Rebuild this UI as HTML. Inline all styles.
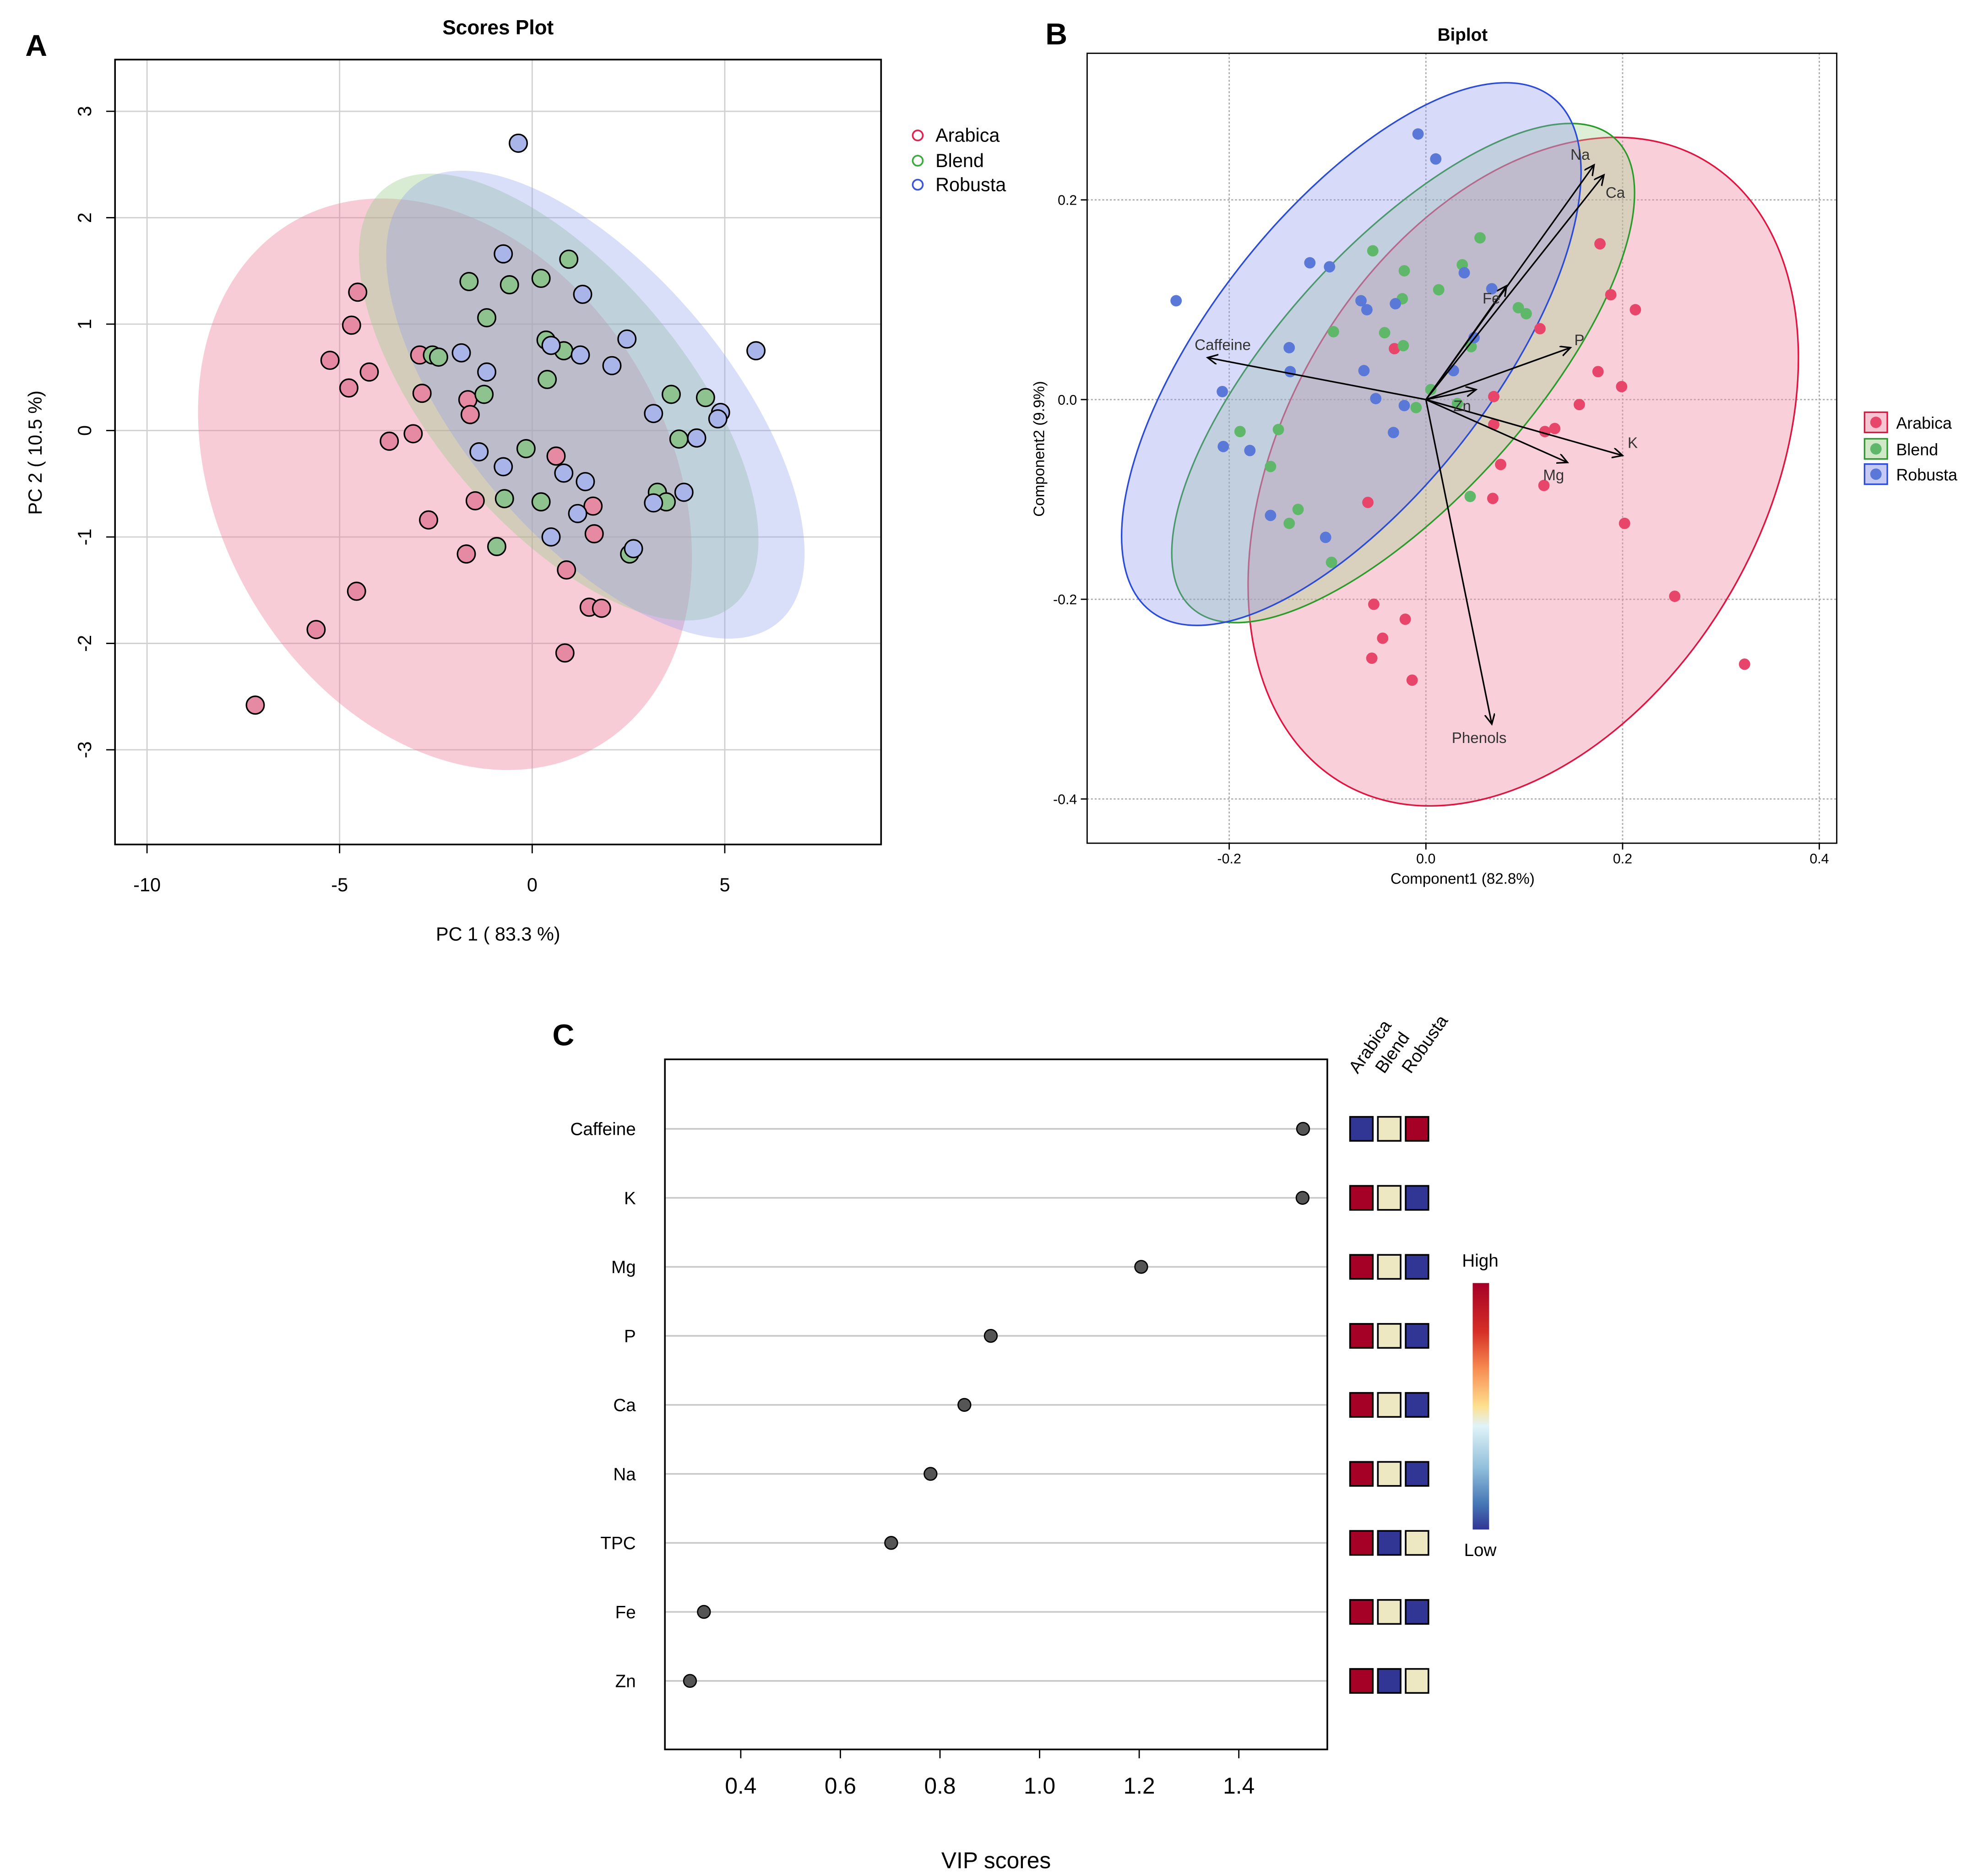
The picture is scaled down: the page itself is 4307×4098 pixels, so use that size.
<!DOCTYPE html>
<html><head><meta charset="utf-8"><style>html,body{margin:0;padding:0;background:#fff}svg{display:block}text{font-family:"Liberation Sans",sans-serif}</style></head>
<body>
<svg id="root" width="4307" height="4098" viewBox="0 0 1560 1484" xmlns="http://www.w3.org/2000/svg">
<rect width="1560" height="1484" fill="#fff"/>
<g id="A"></g>
<g id="B"></g>
<g id="C"></g>
</svg>
<script>
// ---- Panel A data ----
const aArabicaX=[-4.53,-4.69,-5.25,-4.23,-4.76,-2.92,-2.86,-1.67,-1.61,-3.71,-3.09,0.62,-2.69,-1.48,1.58,1.61,-1.71,0.89,-4.56,-5.61,1.48,1.80,0.85,-7.19];
const aArabicaY=[1.30,0.99,0.66,0.55,0.40,0.71,0.35,0.29,0.15,-0.10,-0.03,-0.24,-0.84,-0.66,-0.71,-0.97,-1.16,-1.31,-1.51,-1.87,-1.66,-1.67,-2.09,-2.58];
const aBlendX=[-1.64,-0.59,0.23,0.95,-1.18,0.36,0.82,0.39,-2.59,-2.43,-1.25,-0.16,-0.72,0.23,-0.92,2.53,3.61,4.50,3.81,3.25,3.48];
const aBlendY=[1.40,1.37,1.43,1.61,1.06,0.85,0.75,0.48,0.71,0.69,0.34,-0.17,-0.64,-0.67,-1.09,-1.16,0.34,0.31,-0.08,-0.58,-0.67];
const aRobustaX=[-0.36,-0.75,1.31,-1.84,-1.18,0.49,1.25,2.46,2.07,5.81,4.89,4.82,3.15,4.27,-1.38,-0.75,0.82,1.38,3.94,3.15,1.18,0.49,2.63];
const aRobustaY=[2.70,1.66,1.28,0.73,0.55,0.80,0.71,0.86,0.61,0.75,0.17,0.11,0.16,-0.07,-0.20,-0.34,-0.40,-0.48,-0.58,-0.68,-0.78,-1.00,-1.11];
const aXTicks=[-10,-5,0,5];
const aYTicks=[-3,-2,-1,0,1,2,3];
// ---- Panel B data ----
const bArabicaX=[0.177,0.188,0.213,0.116,0.175,0.199,0.156,0.069,0.131,0.121,0.069,0.076,0.120,0.068,-0.059,0.202,0.253,-0.032,-0.053,-0.021,-0.044,-0.055,-0.014,0.324];
const bArabicaY=[0.156,0.105,0.090,0.071,0.028,0.013,-0.005,0.003,-0.029,-0.032,-0.025,-0.065,-0.086,-0.099,-0.103,-0.124,-0.197,0.051,-0.205,-0.220,-0.239,-0.259,-0.281,-0.265];
const bBlendX=[0.055,-0.054,0.037,-0.022,0.013,-0.024,0.094,0.102,-0.094,-0.042,-0.023,0.046,0.005,-0.010,0.032,-0.189,-0.150,-0.158,-0.130,-0.139,-0.096,0.045];
const bBlendY=[0.162,0.149,0.135,0.129,0.110,0.101,0.092,0.086,0.068,0.067,0.054,0.053,0.010,-0.008,-0.004,-0.032,-0.030,-0.067,-0.110,-0.124,-0.163,-0.097];
const bRobustaX=[-0.008,0.010,-0.254,-0.118,-0.098,-0.066,-0.060,-0.031,0.039,0.067,0.049,-0.139,-0.138,-0.063,0.028,-0.207,-0.051,-0.022,-0.033,-0.206,-0.179,-0.102,-0.158];
const bRobustaY=[0.266,0.241,0.099,0.137,0.133,0.099,0.090,0.096,0.127,0.111,0.062,0.052,0.028,0.029,0.029,0.008,0.001,-0.006,-0.033,-0.047,-0.051,-0.138,-0.116];
const loadNames=["Na","Ca","Fe","P","K","Mg","Zn","Caffeine","Phenols"];
const loadX=[0.171,0.181,0.082,0.147,0.200,0.144,0.051,-0.222,0.067];
const loadY=[0.235,0.225,0.114,0.052,-0.056,-0.063,0.010,0.042,-0.325];
const bXTicks=[-0.2,0.0,0.2,0.4];
const bYTicks=[-0.4,-0.2,0.0,0.2];
// ---- Panel C data ----
const vipNames=["Caffeine","K","Mg","P","Ca","Na","TPC","Fe","Zn"];
const vipValues=[1.529,1.528,1.204,0.902,0.849,0.781,0.702,0.326,0.298];
const heatGroups=["Arabica","Blend","Robusta"];
const heatArabica=[-1,1,1,1,1,1,1,1,1];
const heatBlend=[0,0,0,0,0,0,-1,0,-1];
const heatRobusta=[1,-1,-1,-1,-1,-1,0,-1,0];
const cXTicks=[0.4,0.6,0.8,1.0,1.2,1.4];

const NS="http://www.w3.org/2000/svg";
function mk(parent,tag,attrs,txt){const e=document.createElementNS(NS,tag);for(const k in attrs)e.setAttribute(k,attrs[k]);if(txt!==undefined)e.textContent=txt;parent.appendChild(e);return e;}

// ===== Panel A =====
const A=document.getElementById('A');
const ax=v=>421+v*30.47, ay=v=>340.5-v*84.2;
let t=mk(A,'text',{x:20,y:44,'font-size':24,'font-weight':'bold'},'A');


aXTicks.forEach(v=>{let l=mk(A,'line',{x1:ax(v),x2:ax(v),y1:47,y2:668,stroke:'#d0d0d0','stroke-width':1});

});
aYTicks.forEach(v=>{let l=mk(A,'line',{x1:91,x2:697,y1:ay(v),y2:ay(v),stroke:'#d0d0d0','stroke-width':1});

});
[[352,383,240,178,60,'rgba(236,120,150,0.38)','arabica'],[442,314,215,100,50,'rgba(150,205,140,0.38)','blend'],[471,320,225,105,50,'rgba(140,155,235,0.32)','robusta']].forEach(e=>{
 let el=mk(A,'ellipse',{cx:0,cy:0,rx:e[2],ry:e[3],transform:`translate(${e[0]},${e[1]}) rotate(${e[4]})`,fill:e[5]});
 
 
});
function ptsA(xs,ys,fill,name){xs.forEach((x,i)=>{let c=mk(A,'circle',{cx:ax(x),cy:ay(ys[i]),r:7,fill:fill,stroke:'#000','stroke-width':1.2});

});}
ptsA(aArabicaX,aArabicaY,'#e58aa2','a-point-arabica');
ptsA(aBlendX,aBlendY,'#8ec28e','a-point-blend');
ptsA(aRobustaX,aRobustaY,'#a9b5e8','a-point-robusta');
let box=mk(A,'rect',{x:91,y:47,width:606,height:621,fill:'none',stroke:'#000','stroke-width':1.3});


aXTicks.forEach(v=>{mk(A,'line',{x1:ax(v),x2:ax(v),y1:668,y2:675,stroke:'#000'});
let tx=mk(A,'text',{x:ax(v),y:705,'font-size':15,'text-anchor':'middle'},String(v));

});
aYTicks.forEach(v=>{mk(A,'line',{x1:84,x2:91,y1:ay(v),y2:ay(v),stroke:'#000'});
let tx=mk(A,'text',{x:0,y:0,'font-size':15,'text-anchor':'middle',transform:`translate(72,${ay(v)}) rotate(-90)`},String(v));

});
t=mk(A,'text',{x:394,y:27,'font-size':16,'font-weight':'bold','text-anchor':'middle'},'Scores Plot');


t=mk(A,'text',{x:394,y:744,'font-size':15,'text-anchor':'middle'},'PC 1 ( 83.3 %)');


t=mk(A,'text',{x:0,y:0,'font-size':15,'text-anchor':'middle',transform:'translate(33,358) rotate(-90)'},'PC 2 ( 10.5 %)');


[['Arabica','#e0224e',108],['Blend','#3aaa3a',128],['Robusta','#3a55d8',147]].forEach(l=>{
 let g=mk(A,'g',{});
 
 
 mk(g,'circle',{cx:726,cy:l[2]-1,r:4,fill:'none',stroke:l[1],'stroke-width':1.3});
 mk(g,'text',{x:740,y:l[2]+4,'font-size':15},l[0]);
});

// ===== Panel B =====
const B=document.getElementById('B');
const bx=v=>1128+v*778, by=v=>316-v*790;
t=mk(B,'text',{x:827,y:35,'font-size':24,'font-weight':'bold'},'B');


bXTicks.forEach(v=>{let l=mk(B,'line',{x1:bx(v),x2:bx(v),y1:42,y2:667,stroke:'#aaa','stroke-dasharray':'1.5,1.5'});

});
bYTicks.forEach(v=>{let l=mk(B,'line',{x1:860,x2:1453,y1:by(v),y2:by(v),stroke:'#aaa','stroke-dasharray':'1.5,1.5'});

});
[[1205,373,285,190,-60,'rgba(240,140,165,0.42)','#e0123e','arabica'],[1110,295,250,100,-48,'rgba(160,210,140,0.35)','#2a9a2a','blend'],[1069,280,258,112,-52,'rgba(140,150,235,0.35)','#2a4ad8','robusta']].forEach(e=>{
 let el=mk(B,'ellipse',{cx:0,cy:0,rx:e[2],ry:e[3],transform:`translate(${e[0]},${e[1]}) rotate(${e[4]})`,fill:e[5],stroke:e[6],'stroke-width':1.2});
 
 
});
function ptsB(xs,ys,fill,name){xs.forEach((x,i)=>{let c=mk(B,'circle',{cx:bx(x),cy:by(ys[i]),r:4.5,fill:fill});

});}
ptsB(bArabicaX,bArabicaY,'#e8456a','b-point-arabica');
ptsB(bBlendX,bBlendY,'#5fb86a','b-point-blend');
ptsB(bRobustaX,bRobustaY,'#5a78d8','b-point-robusta');
mk(B,'defs',{}).innerHTML='<marker id="arr" markerWidth="10" markerHeight="10" refX="8" refY="4" orient="auto" markerUnits="userSpaceOnUse"><path d="M0,0 L8,4 L0,8" fill="none" stroke="#000" stroke-width="1.2"/></marker>';
const lblOff={Na:[-11,-8],Ca:[9,14],Fe:[-12,10],P:[7,-6],K:[8,-10],Mg:[-11,10],Zn:[-11,13],Caffeine:[12,-10],Phenols:[-10,11]};
loadNames.forEach((n,i)=>{
 let l=mk(B,'line',{x1:bx(0),y1:by(0),x2:bx(loadX[i]),y2:by(loadY[i]),stroke:'#000','stroke-width':1.2,'marker-end':'url(#arr)'});
 
 
 let o=lblOff[n];
 let tx=mk(B,'text',{x:bx(loadX[i])+o[0],y:by(loadY[i])+o[1]+4,'font-size':12,'text-anchor':'middle',fill:'#333'},n);
 
 
});
box=mk(B,'rect',{x:860,y:42,width:593,height:625,fill:'none',stroke:'#000','stroke-width':1});


bXTicks.forEach(v=>{mk(B,'line',{x1:bx(v),x2:bx(v),y1:667,y2:672,stroke:'#000'});
let tx=mk(B,'text',{x:bx(v),y:683,'font-size':11,'text-anchor':'middle'},v.toFixed(1));

});
bYTicks.forEach(v=>{mk(B,'line',{x1:855,x2:860,y1:by(v),y2:by(v),stroke:'#000'});
let tx=mk(B,'text',{x:852,y:by(v)+4,'font-size':11,'text-anchor':'end'},v.toFixed(1));

});
t=mk(B,'text',{x:1157,y:32,'font-size':14,'font-weight':'bold','text-anchor':'middle'},'Biplot');


t=mk(B,'text',{x:1157,y:699,'font-size':12,'text-anchor':'middle'},'Component1 (82.8%)');


t=mk(B,'text',{x:0,y:0,'font-size':12,'text-anchor':'middle',transform:'translate(826,355) rotate(-90)'},'Component2 (9.9%)');


[['Arabica','rgba(240,140,165,0.5)','#e0123e','#e8456a',334],['Blend','rgba(160,210,140,0.5)','#2a9a2a','#5fb86a',355],['Robusta','rgba(140,150,235,0.5)','#2a4ad8','#5a78d8',375]].forEach(l=>{
 let g=mk(B,'g',{});
 
 
 mk(g,'rect',{x:1475,y:l[4]-8,width:18,height:16,fill:l[1],stroke:l[2],'stroke-width':1.2});
 mk(g,'circle',{cx:1484,cy:l[4],r:4.5,fill:l[3]});
 mk(g,'text',{x:1500,y:l[4]+5,'font-size':13},l[0]);
});

// ===== Panel C =====
const C=document.getElementById('C');
const cx=v=>428.4+v*394, rowY=i=>893+i*54.6;
t=mk(C,'text',{x:437,y:827,'font-size':24,'font-weight':'bold'},'C');


vipNames.forEach((n,i)=>{
 let l=mk(C,'line',{x1:526,x2:1050,y1:rowY(i),y2:rowY(i),stroke:'#c8c8c8','stroke-width':1.3});
 
 
 let c=mk(C,'circle',{cx:cx(vipValues[i]),cy:rowY(i),r:5,fill:'#555',stroke:'#000','stroke-width':1});
 
 
 let tx=mk(C,'text',{x:503,y:rowY(i)+5,'font-size':14,'text-anchor':'end'},n);
 
 
 [heatArabica,heatBlend,heatRobusta].forEach((arr,j)=>{
  const col=arr[i]>0?'#a50026':(arr[i]<0?'#313695':'#eee8c2');
  let r=mk(C,'rect',{x:1068+j*22,y:rowY(i)-9.5,width:18,height:19,fill:col,stroke:'#000','stroke-width':1.3});
  
  
 });
});
box=mk(C,'rect',{x:526,y:838,width:524,height:546,fill:'none',stroke:'#000','stroke-width':1.3});


cXTicks.forEach(v=>{mk(C,'line',{x1:cx(v),x2:cx(v),y1:1384,y2:1391,stroke:'#000'});
let tx=mk(C,'text',{x:cx(v),y:1419,'font-size':18,'text-anchor':'middle'},v.toFixed(1));

});
t=mk(C,'text',{x:788,y:1478,'font-size':18,'text-anchor':'middle'},'VIP scores');


heatGroups.forEach((g,j)=>{let tx=mk(C,'text',{x:0,y:0,'font-size':14,transform:`translate(${1074+j*21},850) rotate(-55)`},g);

});
mk(C,'defs',{}).innerHTML='<linearGradient id="cb" x1="0" y1="0" x2="0" y2="1"><stop offset="0" stop-color="#a50026"/><stop offset="0.2" stop-color="#d73027"/><stop offset="0.35" stop-color="#f88d52"/><stop offset="0.5" stop-color="#fee090"/><stop offset="0.58" stop-color="#e0f3f8"/><stop offset="0.75" stop-color="#91bfdb"/><stop offset="0.9" stop-color="#4575b4"/><stop offset="1" stop-color="#313695"/></linearGradient>';
let cb=mk(C,'rect',{x:1165,y:1015,width:13,height:195,fill:'url(#cb)'});


t=mk(C,'text',{x:1171,y:1002,'font-size':14,'text-anchor':'middle'},'High');


t=mk(C,'text',{x:1171,y:1231,'font-size':14,'text-anchor':'middle'},'Low');


</script>
</body></html>
